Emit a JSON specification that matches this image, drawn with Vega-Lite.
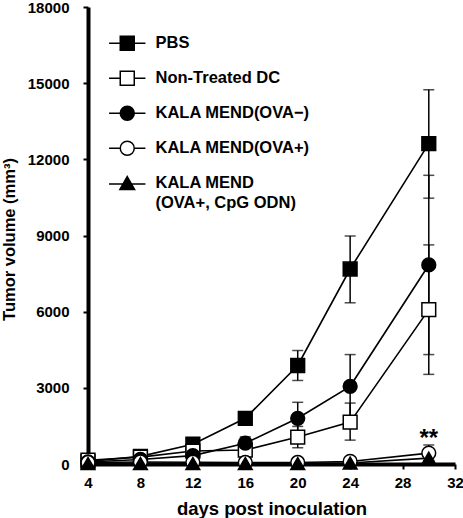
{
  "$schema": "https://vega.github.io/schema/vega-lite/v6.json",
  "width": 367,
  "height": 457,
  "autosize": {"type": "none"},
  "padding": {"left": 88, "top": 7, "right": 8, "bottom": 54},
  "config": {
    "view": {"stroke": null},
    "font": "Liberation Sans",
    "style": {"guide-label": {"lineHeight": 20}},
    "axis": {
      "labelFont": "Liberation Sans", "labelFontWeight": "bold", "labelFontSize": 15, "labelColor": "black",
      "titleFont": "Liberation Sans", "titleFontWeight": "bold", "titleColor": "black",
      "domainColor": "black", "domainWidth": 4, "tickColor": "black", "tickWidth": 2, "tickSize": 5, "grid": false
    }
  },
  "datasets": {
    "tumor": [
      {"group": "PBS", "day": 4, "vol": 100, "lo": 70, "hi": 130},
      {"group": "PBS", "day": 8, "vol": 300, "lo": 240, "hi": 360},
      {"group": "PBS", "day": 12, "vol": 780, "lo": 630, "hi": 930},
      {"group": "PBS", "day": 16, "vol": 1800, "lo": 1550, "hi": 2050},
      {"group": "PBS", "day": 20, "vol": 3880, "lo": 3290, "hi": 4470},
      {"group": "PBS", "day": 24, "vol": 7680, "lo": 6350, "hi": 8980},
      {"group": "PBS", "day": 30, "vol": 12620, "lo": 10470, "hi": 14740},
      {"group": "Non-Treated DC", "day": 4, "vol": 150, "lo": 120, "hi": 180},
      {"group": "Non-Treated DC", "day": 8, "vol": 270, "lo": 220, "hi": 320},
      {"group": "Non-Treated DC", "day": 12, "vol": 510, "lo": 410, "hi": 610},
      {"group": "Non-Treated DC", "day": 16, "vol": 550, "lo": 400, "hi": 700},
      {"group": "Non-Treated DC", "day": 20, "vol": 1060, "lo": 640, "hi": 1480},
      {"group": "Non-Treated DC", "day": 24, "vol": 1650, "lo": 940, "hi": 2400},
      {"group": "Non-Treated DC", "day": 30, "vol": 6080, "lo": 3530, "hi": 8630},
      {"group": "KALA MEND(OVA−)", "day": 4, "vol": 80, "lo": 60, "hi": 100},
      {"group": "KALA MEND(OVA−)", "day": 8, "vol": 180, "lo": 140, "hi": 220},
      {"group": "KALA MEND(OVA−)", "day": 12, "vol": 330, "lo": 250, "hi": 410},
      {"group": "KALA MEND(OVA−)", "day": 16, "vol": 820, "lo": 570, "hi": 1070},
      {"group": "KALA MEND(OVA−)", "day": 20, "vol": 1800, "lo": 1170, "hi": 2430},
      {"group": "KALA MEND(OVA−)", "day": 24, "vol": 3060, "lo": 1810, "hi": 4310},
      {"group": "KALA MEND(OVA−)", "day": 30, "vol": 7840, "lo": 4310, "hi": 11370},
      {"group": "KALA MEND(OVA+)", "day": 4, "vol": 60, "lo": 50, "hi": 70},
      {"group": "KALA MEND(OVA+)", "day": 8, "vol": 80, "lo": 60, "hi": 100},
      {"group": "KALA MEND(OVA+)", "day": 12, "vol": 70, "lo": 50, "hi": 90},
      {"group": "KALA MEND(OVA+)", "day": 16, "vol": 60, "lo": 40, "hi": 80},
      {"group": "KALA MEND(OVA+)", "day": 20, "vol": 60, "lo": 40, "hi": 80},
      {"group": "KALA MEND(OVA+)", "day": 24, "vol": 100, "lo": 60, "hi": 140},
      {"group": "KALA MEND(OVA+)", "day": 30, "vol": 430, "lo": 110, "hi": 750},
      {"group": "KALA MEND (OVA+, CpG ODN)", "day": 4, "vol": 20, "lo": 10, "hi": 30},
      {"group": "KALA MEND (OVA+, CpG ODN)", "day": 8, "vol": 20, "lo": 10, "hi": 30},
      {"group": "KALA MEND (OVA+, CpG ODN)", "day": 12, "vol": 20, "lo": 10, "hi": 30},
      {"group": "KALA MEND (OVA+, CpG ODN)", "day": 16, "vol": 20, "lo": 10, "hi": 30},
      {"group": "KALA MEND (OVA+, CpG ODN)", "day": 20, "vol": 20, "lo": 10, "hi": 30},
      {"group": "KALA MEND (OVA+, CpG ODN)", "day": 24, "vol": 40, "lo": 20, "hi": 60},
      {"group": "KALA MEND (OVA+, CpG ODN)", "day": 30, "vol": 230, "lo": 150, "hi": 310}
    ],
    "notes": [
      {"day": 30, "vol": 1000, "label": "**"}
    ]
  },
  "data": {"name": "tumor"},
  "encoding": {
    "x": {
      "field": "day", "type": "quantitative",
      "scale": {"domain": [4, 32], "nice": false, "zero": false},
      "axis": {"values": [4, 8, 12, 16, 20, 24, 28, 32], "title": "days post inoculation", "titleFontSize": 18.5, "titleY": 50, "titleBaseline": "alphabetic", "labelPadding": 6, "labelFlush": false}
    },
    "y": {
      "field": "vol", "type": "quantitative",
      "scale": {"domain": [0, 18000], "nice": false},
      "axis": {"values": [0, 3000, 6000, 9000, 12000, 15000, 18000], "format": "d", "title": "Tumor volume (mm³)", "titleFontSize": 16.5, "titleX": -79, "titleY": 232, "titleBaseline": "middle", "labelPadding": 14}
    }
  },
  "layer": [
    {
      "mark": {"type": "rule", "color": "black", "strokeWidth": 1.5},
      "encoding": {"y": {"field": "lo", "type": "quantitative"}, "y2": {"field": "hi"}}
    },
    {
      "mark": {"type": "tick", "orient": "horizontal", "color": "black", "size": 11, "thickness": 1.5},
      "encoding": {"y": {"field": "hi", "type": "quantitative"}}
    },
    {
      "mark": {"type": "tick", "orient": "horizontal", "color": "black", "size": 11, "thickness": 1.5},
      "encoding": {"y": {"field": "lo", "type": "quantitative"}}
    },
    {
      "mark": {"type": "line", "color": "black", "strokeWidth": 1.6},
      "encoding": {"detail": {"field": "group"}}
    },
    {
      "mark": {"type": "point", "filled": true, "stroke": "black", "strokeWidth": 1.5, "size": 190, "opacity": 1},
      "encoding": {
        "shape": {"field": "group", "type": "nominal", "legend": null,
          "scale": {"domain": ["PBS", "Non-Treated DC", "KALA MEND(OVA−)", "KALA MEND(OVA+)", "KALA MEND (OVA+, CpG ODN)"], "range": ["square", "square", "circle", "circle", "triangle-up"]}},
        "fill": {"field": "group", "type": "nominal", "legend": null,
          "scale": {"domain": ["PBS", "Non-Treated DC", "KALA MEND(OVA−)", "KALA MEND(OVA+)", "KALA MEND (OVA+, CpG ODN)"], "range": ["black", "white", "black", "white", "black"]}}
      }
    },
    {
      "mark": {"type": "point", "filled": true, "stroke": "black", "strokeWidth": 1.5, "opacity": 0, "size": 196},
      "encoding": {
        "shape": {"field": "group", "type": "nominal",
          "scale": {"domain": ["PBS", "Non-Treated DC", "KALA MEND(OVA−)", "KALA MEND(OVA+)", "KALA MEND (OVA+, CpG ODN)"],
            "range": ["M-2.6,0H2.6M-1,-1H1V1H-1Z", "M-2.6,0H-1M1,0H2.6M-1,-1H1V1H-1Z", "M-2.6,0H2.6M-1,0A1,1 0 1,0 1,0A1,1 0 1,0 -1,0Z", "M-2.6,0H-1M1,0H2.6M-1,0A1,1 0 1,0 1,0A1,1 0 1,0 -1,0Z", "M-2.6,0.1H2.6M0,-0.95L1.05,0.9H-1.05Z"]},
          "legend": {"orient": "none", "legendX": 31, "legendY": 28, "title": null, "padding": 0, "symbolSize": 196, "symbolStrokeColor": "black", "symbolStrokeWidth": 1.5, "symbolOpacity": 1, "labelFont": "Liberation Sans", "labelFontWeight": "bold", "labelFontSize": 16.5, "labelColor": "black", "labelOffset": 20, "rowPadding": 14, "labelLimit": 300,
            "labelExpr": "datum.label == 'KALA MEND (OVA+, CpG ODN)' ? ['KALA MEND', '(OVA+, CpG ODN)'] : datum.label",
            "encode": {"symbols": {"update": {"stroke": {"value": "black"}, "strokeWidth": {"value": 1.5}, "strokeOpacity": {"value": 1}, "opacity": {"value": 1}}}}}},
        "fill": {"field": "group", "type": "nominal",
          "scale": {"domain": ["PBS", "Non-Treated DC", "KALA MEND(OVA−)", "KALA MEND(OVA+)", "KALA MEND (OVA+, CpG ODN)"], "range": ["black", "white", "black", "white", "black"]},
          "legend": {"orient": "none", "legendX": 31, "legendY": 28, "title": null, "padding": 0, "symbolSize": 196, "symbolStrokeColor": "black", "symbolStrokeWidth": 1.5, "symbolOpacity": 1, "labelFont": "Liberation Sans", "labelFontWeight": "bold", "labelFontSize": 16.5, "labelColor": "black", "labelOffset": 20, "rowPadding": 14, "labelLimit": 300,
            "labelExpr": "datum.label == 'KALA MEND (OVA+, CpG ODN)' ? ['KALA MEND', '(OVA+, CpG ODN)'] : datum.label",
            "encode": {"symbols": {"update": {"stroke": {"value": "black"}, "strokeWidth": {"value": 1.5}, "strokeOpacity": {"value": 1}, "opacity": {"value": 1}}}}}}
      }
    },
    {
      "data": {"name": "notes"},
      "mark": {"type": "text", "font": "Liberation Sans", "fontSize": 24, "fontWeight": "bold", "color": "black", "baseline": "middle"},
      "encoding": {"text": {"field": "label"}}
    }
  ],
  "resolve": {"scale": {"shape": "independent", "fill": "independent"}, "legend": {"shape": "independent", "fill": "independent"}}
}
